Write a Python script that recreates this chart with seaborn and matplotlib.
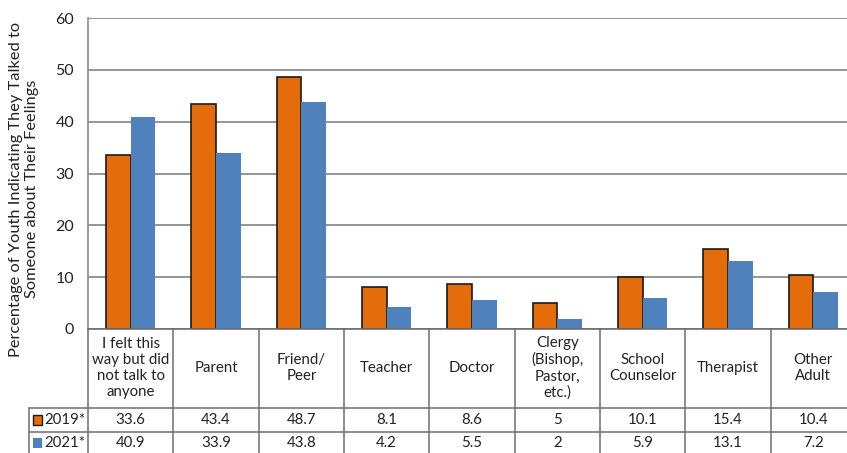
import matplotlib
matplotlib.use("Agg")
import matplotlib.pyplot as plt
import seaborn as sns
import pandas as pd
from matplotlib.patches import Rectangle

categories = [
    "I felt this\nway but did\nnot talk to\nanyone",
    "Parent",
    "Friend/\nPeer",
    "Teacher",
    "Doctor",
    "Clergy\n(Bishop,\nPastor,\netc.)",
    "School\nCounselor",
    "Therapist",
    "Other\nAdult",
]
years = ["2019*", "2021*"]
values_2019 = [33.6, 43.4, 48.7, 8.1, 8.6, 5, 10.1, 15.4, 10.4]
values_2021 = [40.9, 33.9, 43.8, 4.2, 5.5, 2, 5.9, 13.1, 7.2]
y_ticks = [0, 10, 20, 30, 40, 50, 60]

colors = {"2019*": "#E46C0A", "2021*": "#4F81BD"}

df = pd.DataFrame({
    "category": categories * 2,
    "year": [years[0]] * len(categories) + [years[1]] * len(categories),
    "value": values_2019 + values_2021,
})

sns.set_theme(style="white")
plt.rcParams["font.family"] = ["Lato", "DejaVu Sans"]

W, H = 847, 453
fig = plt.figure(figsize=(W / 100, H / 100), dpi=100)

# plot area in pixel units (left, top, right, bottom)
L, T, R, B = 88, 18, 856, 329
ax = fig.add_axes([L / W, 1 - B / H, (R - L) / W, (B - T) / H])

sns.barplot(data=df, x="category", y="value", hue="year", order=categories,
            hue_order=years, palette=colors, width=0.58, saturation=1,
            dodge=True, ax=ax, legend=False)

for p in ax.containers[0]:
    p.set_edgecolor("#1a1a1a")
    p.set_linewidth(1.2)
for p in ax.containers[1]:
    p.set_edgecolor("none")

ax.set_ylim(0, 60)
ax.set_xlim(-0.5, len(categories) - 0.5)
ax.set_yticks(y_ticks)
ax.set_yticklabels([str(t) for t in y_ticks], fontsize=11.5, color="#222222")
ax.tick_params(axis="y", length=0, pad=10)
ax.set_xticks([])
ax.set_xlabel("")
ax.set_ylabel("")
ax.yaxis.grid(True, color="#8c8c8c", linewidth=1.3)
ax.set_axisbelow(True)
for s in ["top", "right"]:
    ax.spines[s].set_visible(False)
ax.spines["left"].set_color("#8c8c8c")
ax.spines["left"].set_linewidth(1.2)
ax.spines["bottom"].set_color("#6e6e6e")
ax.spines["bottom"].set_linewidth(1.2)

fig.text(24 / W, 1 - 189 / H,
         "Percentage of Youth Indicating They Talked to\nSomeone about Their Feelings",
         rotation=90, ha="center", va="center", fontsize=11.8, color="#222222",
         linespacing=1.2)

# data table below the axis
def ay(px):
    return (B - px) / (B - T)

tr = ax.get_xaxis_transform()
line_kw = dict(color="#6e6e6e", linewidth=1.1, clip_on=False)
row1, row2, bottom = 408, 432, 455
n = len(categories)

for i in range(n + 1):
    x = i - 0.5
    ax.plot([x, x], [ay(B), ay(bottom)], transform=tr, **line_kw)

legend_left = -0.5 - (L - 29) / ((R - L) / n)
for yy in (row1, row2, bottom):
    ax.plot([legend_left, n - 0.5], [ay(yy), ay(yy)], transform=tr, **line_kw)
ax.plot([legend_left, legend_left], [ay(row1), ay(bottom)], transform=tr, **line_kw)

for i, cat in enumerate(categories):
    ax.text(i, ay(368), cat, transform=tr, ha="center", va="center",
            fontsize=10.8, color="#222222", linespacing=1.2)
    ax.text(i, ay(420), f"{values_2019[i]:g}", transform=tr, ha="center",
            va="center", fontsize=10.8, color="#222222")
    ax.text(i, ay(443), f"{values_2021[i]:g}", transform=tr, ha="center",
            va="center", fontsize=10.8, color="#222222")

# legend keys inside the table
for yy, yr, edge in ((420, years[0], "#1a1a1a"), (443, years[1], "none")):
    fig.patches.append(Rectangle((33 / W, 1 - (yy + 5) / H), 9 / W, 10 / H,
                                 transform=fig.transFigure, facecolor=colors[yr],
                                 edgecolor=edge, linewidth=1.0))
    fig.text(44 / W, 1 - yy / H, yr, ha="left", va="center", fontsize=10.8,
             color="#222222")

fig.savefig("out.png", dpi=100)
